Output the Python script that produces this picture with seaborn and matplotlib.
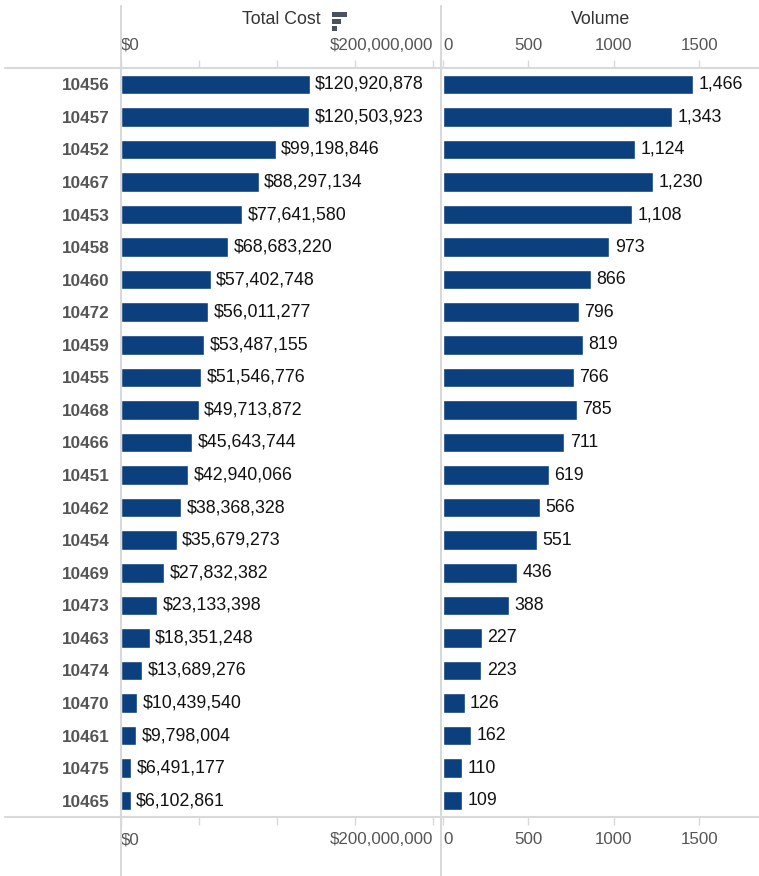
import matplotlib
matplotlib.use('Agg')
import matplotlib.pyplot as plt
import matplotlib.patches as mpatches
from matplotlib.lines import Line2D
import pandas as pd
import seaborn as sns

sns.set_style('white')
plt.rcParams['font.family'] = ['Liberation Sans', 'DejaVu Sans']

# datos
ids = ['10456', '10457', '10452', '10467', '10453', '10458', '10460', '10472',
       '10459', '10455', '10468', '10466', '10451', '10462', '10454', '10469',
       '10473', '10463', '10474', '10470', '10461', '10475', '10465']
total_cost = [120920878, 120503923, 99198846, 88297134, 77641580, 68683220,
              57402748, 56011277, 53487155, 51546776, 49713872, 45643744,
              42940066, 38368328, 35679273, 27832382, 23133398, 18351248,
              13689276, 10439540, 9798004, 6491177, 6102861]
volume = [1466, 1343, 1124, 1230, 1108, 973, 866, 796, 819, 766, 785, 711,
          619, 566, 551, 436, 388, 227, 223, 126, 162, 110, 109]
cost_ticks = [0, 50e6, 100e6, 150e6, 200e6]
cost_ticklabels = ['$0', '', '', '', '$200,000,000']
vol_ticks = [0, 500, 1000, 1500]
vol_ticklabels = ['0', '500', '1000', '1500']

df = pd.DataFrame({'id': ids, 'cost': total_cost, 'volume': volume})

W, H = 759, 876
azul = '#0b3f7d'
gris_linea = '#d9d9d9'
gris_texto = '#555555'

fig = plt.figure(figsize=(W / 100, H / 100), dpi=100)

def caja(x0, x1, y0, y1):
    # convierte pixeles a coordenadas de figura
    return [x0 / W, 1 - y1 / H, (x1 - x0) / W, (y1 - y0) / H]

ax1 = fig.add_axes(caja(121, 440, 68, 817))
ax2 = fig.add_axes(caja(443, 759, 68, 817))

sns.barplot(data=df, x='cost', y='id', orient='h', color=azul, width=0.6,
            saturation=1, ax=ax1)
sns.barplot(data=df, x='volume', y='id', orient='h', color=azul, width=0.6,
            saturation=1, ax=ax2)

ax1.bar_label(ax1.containers[0], labels=['${:,}'.format(v) for v in total_cost],
              padding=4, fontsize=12.8, color='#111111')
ax2.bar_label(ax2.containers[0], labels=['{:,}'.format(v) for v in volume],
              padding=4, fontsize=12.8, color='#111111')

ax1.set_xlim(0, 204.5e6)
ax2.set_xlim(0, 1851)
for ax in (ax1, ax2):
    ax.set_ylim(22.5, -0.5)
    ax.set_xlabel('')
    ax.set_ylabel('')
    for s in ax.spines.values():
        s.set_visible(False)
    ax.tick_params(axis='x', top=True, bottom=True, labeltop=True, labelbottom=True,
                   direction='out', length=6, width=1, color=gris_linea,
                   labelsize=12.2, labelcolor=gris_texto, pad=5)

ax1.set_xticks(cost_ticks, cost_ticklabels)
ax2.set_xticks(vol_ticks, vol_ticklabels)
ax1.tick_params(axis='y', length=0, pad=8, labelsize=12.3, labelcolor=gris_texto)
for t in ax1.get_yticklabels():
    t.set_fontweight('bold')
ax2.set_yticks([])

# alineacion de las etiquetas extremas como en tableau
tk1 = ax1.xaxis.get_major_ticks()
for lab in (tk1[0].label1, tk1[0].label2):
    lab.set_ha('left')
for lab in (tk1[-1].label1, tk1[-1].label2):
    lab.set_ha('right')
tk2 = ax2.xaxis.get_major_ticks()
for lab in (tk2[0].label1, tk2[0].label2):
    lab.set_ha('left')

# lineas de la cuadricula de tableau
for yy in (68, 817):
    fig.add_artist(Line2D([5 / W, 1], [1 - yy / H] * 2, color=gris_linea, lw=1.5))
for xx in (121, 441):
    fig.add_artist(Line2D([xx / W] * 2, [0, 1 - 6 / H], color=gris_linea, lw=1.5))

# titulos de columnas
fig.text(281 / W, 1 - 20 / H, 'Total Cost', ha='center', va='center',
         fontsize=12.8, color='#333333')
fig.text(601 / W, 1 - 20 / H, 'Volume', ha='center', va='center',
         fontsize=12.8, color='#333333')

# icono de orden
for i, ancho in enumerate([15, 9, 4.5]):
    fig.add_artist(mpatches.Rectangle((332 / W, 1 - (12 + i * 7 + 4.5) / H),
                                      ancho / W, 4.5 / H, facecolor='#4a5260',
                                      edgecolor='none', transform=fig.transFigure))

fig.savefig('out.png', dpi=100)
